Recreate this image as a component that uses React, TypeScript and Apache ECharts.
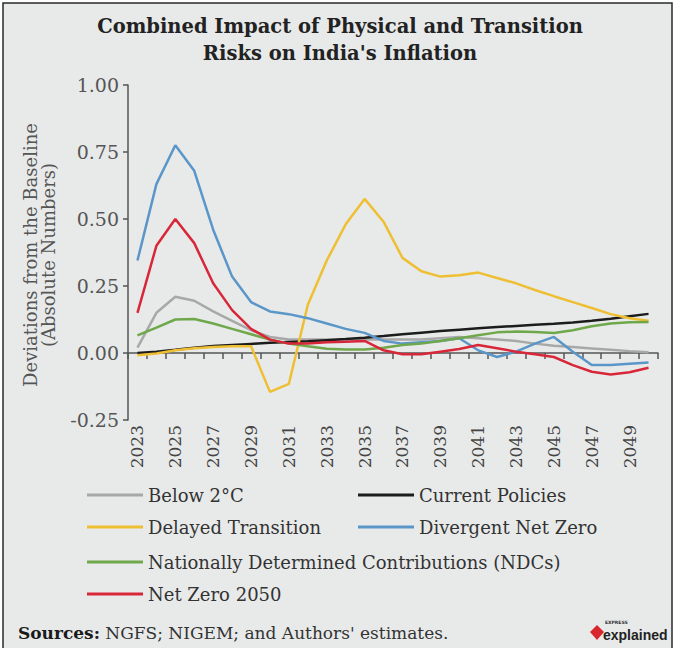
import React, { useEffect, useRef } from "react";
import * as echarts from "echarts";

const years = [
  "2023", "2024", "2025", "2026", "2027", "2028", "2029", "2030", "2031", "2032",
  "2033", "2034", "2035", "2036", "2037", "2038", "2039", "2040", "2041", "2042",
  "2043", "2044", "2045", "2046", "2047", "2048", "2049", "2050",
];

const below2C = [0.02, 0.15, 0.21, 0.195, 0.155, 0.12, 0.085, 0.06, 0.05, 0.05, 0.05, 0.05, 0.05, 0.05, 0.05, 0.05, 0.055, 0.06, 0.055, 0.05, 0.045, 0.035, 0.027, 0.022, 0.017, 0.012, 0.007, 0.003];
const currentPolicies = [0.0, 0.005, 0.012, 0.02, 0.026, 0.03, 0.034, 0.038, 0.041, 0.044, 0.048, 0.052, 0.057, 0.063, 0.07, 0.076, 0.082, 0.087, 0.092, 0.097, 0.101, 0.105, 0.109, 0.114, 0.12, 0.128, 0.137, 0.146];
const delayedTransition = [-0.008, -0.002, 0.01, 0.018, 0.022, 0.025, 0.025, -0.145, -0.115, 0.18, 0.345, 0.48, 0.575, 0.49, 0.355, 0.305, 0.285, 0.29, 0.3, 0.28, 0.26, 0.235, 0.212, 0.19, 0.168, 0.145, 0.13, 0.12];
const divergentNetZero = [0.345, 0.63, 0.775, 0.68, 0.46, 0.285, 0.19, 0.155, 0.145, 0.13, 0.11, 0.09, 0.075, 0.045, 0.035, 0.04, 0.045, 0.055, 0.01, -0.015, 0.005, 0.035, 0.06, 0.005, -0.045, -0.045, -0.04, -0.035];
const ndcs = [0.066, 0.095, 0.125, 0.127, 0.11, 0.09, 0.07, 0.05, 0.035, 0.025, 0.016, 0.013, 0.013, 0.02, 0.03, 0.035, 0.045, 0.055, 0.066, 0.077, 0.08, 0.078, 0.075, 0.085, 0.1, 0.11, 0.115, 0.116];
const netZero2050 = [0.15, 0.4, 0.5, 0.41, 0.26, 0.16, 0.09, 0.05, 0.035, 0.035, 0.04, 0.042, 0.045, 0.01, -0.005, -0.005, 0.005, 0.015, 0.03, 0.018, 0.005, -0.005, -0.015, -0.045, -0.07, -0.08, -0.072, -0.055];

const seriesNames = [
  "Below 2°C",
  "Current Policies",
  "Delayed Transition",
  "Divergent Net Zero",
  "Nationally Determined Contributions (NDCs)",
  "Net Zero 2050",
];
const seriesData = [below2C, currentPolicies, delayedTransition, divergentNetZero, ndcs, netZero2050];
const seriesColors = ["#a8a8a8", "#1c1c1c", "#efbf33", "#5b96c9", "#6fa84a", "#d9273a"];

const yTicks = { min: -0.25, max: 1, interval: 0.25 };

const SERIF = "'DejaVu Serif', serif";
const legendPos = [
  { left: 87, top: 486 },
  { left: 358, top: 486 },
  { left: 87, top: 518 },
  { left: 358, top: 518 },
  { left: 87, top: 553 },
  { left: 87, top: 585 },
];

export default function App() {
  const ref = useRef<HTMLDivElement>(null);

  useEffect(() => {
    if (!ref.current) return;
    const chart = echarts.init(ref.current, null, { renderer: "svg" });

    const option: any = {
      animation: false,
      backgroundColor: "#ffffff",
      title: {
        text: "Combined Impact of Physical and Transition\nRisks on India's Inflation",
        left: "center",
        top: 8,
        textStyle: {
          fontFamily: SERIF,
          fontWeight: "bold",
          fontSize: 19.5,
          lineHeight: 27,
          color: "#222",
        },
      },
      legend: seriesNames.map((n, i) => ({
        data: [n],
        left: legendPos[i].left,
        top: legendPos[i].top,
        padding: 0,
        icon: "rect",
        itemWidth: 56,
        itemHeight: 3,
        selectedMode: false,
        textStyle: { fontFamily: SERIF, fontSize: 18, color: "#333" },
      })),
      grid: { left: 128, right: 22, top: 85, bottom: 228, containLabel: false },
      xAxis: [
        {
          type: "category",
          data: years,
          boundaryGap: true,
          position: "bottom",
          axisLine: { show: true, onZero: true, lineStyle: { color: "#555", width: 1.5 } },
          axisTick: { show: true, interval: 0, length: 6, lineStyle: { color: "#555", width: 1.5 } },
          axisLabel: { show: false },
          splitLine: { show: false },
        },
        {
          type: "category",
          data: years,
          boundaryGap: true,
          position: "bottom",
          axisLine: { show: false, onZero: false },
          axisTick: { show: false },
          axisLabel: {
            show: true,
            interval: 1,
            rotate: 90,
            margin: 5,
            fontFamily: SERIF,
            fontSize: 17,
            color: "#444",
          },
          splitLine: { show: false },
        },
      ],
      yAxis: {
        type: "value",
        min: yTicks.min,
        max: yTicks.max,
        interval: yTicks.interval,
        axisLine: { show: true, lineStyle: { color: "#555", width: 1.5 } },
        axisTick: { show: true, length: 5, lineStyle: { color: "#555", width: 1.5 } },
        axisLabel: {
          margin: 9,
          fontFamily: SERIF,
          fontSize: 19,
          color: "#555",
          formatter: (v: number) => v.toFixed(2),
        },
        splitLine: { show: false },
      },
      series: seriesNames.map((n, i) => ({
        name: n,
        type: "line",
        xAxisIndex: 0,
        data: seriesData[i],
        symbol: "none",
        color: seriesColors[i],
        lineStyle: { color: seriesColors[i], width: 2.5 },
        z: 3,
      })),
      graphic: [
        {
          type: "rect",
          z: -10,
          silent: true,
          shape: { x: 3, y: 3, width: 669, height: 700 },
          style: { fill: "#e8eaea", stroke: "#2a2a2a", lineWidth: 1.5 },
        },
        {
          type: "text",
          x: 39,
          y: 255,
          rotation: Math.PI / 2,
          silent: true,
          style: {
            text: "Deviations from the Baseline\n(Absolute Numbers)",
            fontFamily: SERIF,
            fontSize: 18,
            lineHeight: 18,
            fill: "#555",
            align: "center",
            verticalAlign: "middle",
          },
        },
        {
          type: "text",
          x: 18,
          y: 633,
          silent: true,
          style: {
            text: "{b|Sources:} NGFS; NIGEM; and Authors' estimates.",
            rich: {
              b: { fontFamily: SERIF, fontSize: 17, fontWeight: "bold", fill: "#1a1a1a" },
            },
            fontFamily: SERIF,
            fontSize: 17,
            fill: "#333",
            verticalAlign: "middle",
          },
        },
        {
          type: "polygon",
          silent: true,
          shape: { points: [[597, 625], [604, 632], [597, 640], [590, 632]] },
          style: { fill: "#d8262e" },
        },
        {
          type: "text",
          x: 605,
          y: 622,
          silent: true,
          style: { text: "EXPRESS", fontFamily: "'DejaVu Sans', sans-serif", fontSize: 4.5, fontWeight: "bold", fill: "#333", verticalAlign: "middle" },
        },
        {
          type: "text",
          x: 603,
          y: 635,
          silent: true,
          style: { text: "explained", fontFamily: "'Liberation Sans', sans-serif", fontSize: 14, fontWeight: "bold", fill: "#222", verticalAlign: "middle" },
        },
      ],
    };

    chart.setOption(option);
    return () => chart.dispose();
  }, []);

  return (
    <div
      ref={ref}
      style={{ position: "fixed", left: 0, top: 0, width: 680, height: 648 }}
    />
  );
}
